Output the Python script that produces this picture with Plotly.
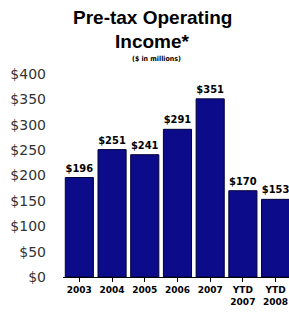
import plotly.graph_objects as go

categories = ["2003", "2004", "2005", "2006", "2007", "YTD<br>2007", "YTD<br>2008"]
values = [196, 251, 241, 291, 351, 170, 153]
value_labels = ["$196", "$251", "$241", "$291", "$351", "$170", "$153"]
y_ticks = [0, 50, 100, 150, 200, 250, 300, 350, 400]
y_tick_labels = ["$0", "$50", "$100", "$150", "$200", "$250", "$300", "$350", "$400"]

PLOT_L, PLOT_R, PLOT_T, PLOT_B = 63, 289, 74, 277


def px_to_paper_x(px):
    return (px - PLOT_L) / (PLOT_R - PLOT_L)


def px_to_paper_y(py):
    return (PLOT_B - py) / (PLOT_B - PLOT_T)


fig = go.Figure(go.Bar(
    x=list(range(len(categories))),
    y=values,
    text=value_labels,
    textposition="outside",
    cliponaxis=False,
    textfont=dict(family="DejaVu Sans Condensed, DejaVu Sans, sans-serif", size=11, color="#000000", weight="bold"),
    marker=dict(color="#0c0c8a", line=dict(color="#00003a", width=1)),
    width=0.86,
))

title_font = dict(family="Liberation Sans, Arial, sans-serif", size=19, color="#000")
fig.update_layout(
    width=289, height=316,
    margin=dict(l=PLOT_L, r=0, t=PLOT_T, b=316 - PLOT_B, autoexpand=False),
    paper_bgcolor="white", plot_bgcolor="white",
    showlegend=False,
    annotations=[
        dict(text="<b>Pre-tax Operating</b>", x=px_to_paper_x(152), y=px_to_paper_y(17),
             xref="paper", yref="paper", xanchor="center", yanchor="middle", showarrow=False,
             font=title_font),
        dict(text="<b>Income*</b>", x=px_to_paper_x(152), y=px_to_paper_y(41),
             xref="paper", yref="paper", xanchor="center", yanchor="middle", showarrow=False,
             font=title_font),
        dict(text="<b>($ in millions)</b>", x=px_to_paper_x(156), y=px_to_paper_y(59),
             xref="paper", yref="paper", xanchor="center", yanchor="middle", showarrow=False,
             font=dict(family="DejaVu Sans Condensed, DejaVu Sans, sans-serif", size=7, color="#000")),
    ],
)

fig.update_xaxes(
    tickmode="array", tickvals=list(range(len(categories))), ticktext=categories,
    range=[-0.5, 6.41], automargin=False,
    showline=True, linecolor="#000", linewidth=1,
    ticks="outside", ticklen=4, tickcolor="#000",
    showgrid=False, zeroline=False,
    tickfont=dict(family="DejaVu Sans, sans-serif", size=9, color="#000", weight="bold"),
)
fig.update_yaxes(
    range=[0, 400], tickmode="array", tickvals=y_ticks, ticktext=y_tick_labels,
    showgrid=False, zeroline=False, showline=False, automargin=False,
    ticklabelstandoff=16,
    tickfont=dict(family="DejaVu Sans, sans-serif", size=14, color="#333"),
)

fig.write_html("out.html", config={"displayModeBar": False},
               post_script="document.body.style.margin='0';document.body.style.overflow='hidden';")
